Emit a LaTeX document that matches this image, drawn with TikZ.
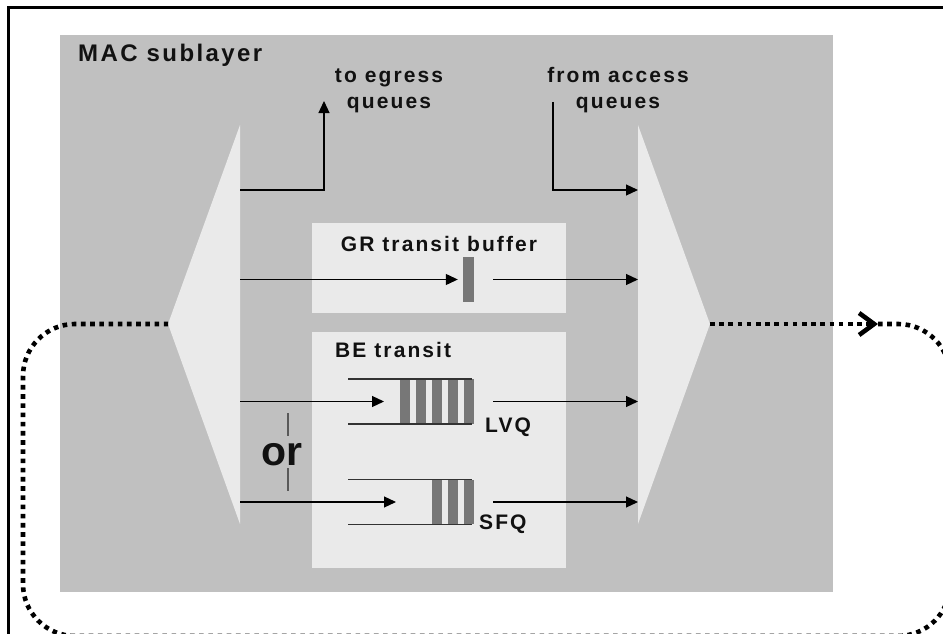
\documentclass[tikz,border=0pt]{standalone}
\usepackage{fontspec}
\setmainfont{Liberation Sans}
\newfontfamily\diafont{Liberation Sans}[LetterSpace=10]
\usetikzlibrary{positioning,arrows.meta,calc}
\definecolor{colormac}  {RGB}{192,192,192}
\definecolor{colorlight}{RGB}{234,234,234}
\definecolor{colorbar}  {RGB}{119,119,119}
\definecolor{colortext} {RGB}{ 17, 17, 17}

\begin{document}
\begin{tikzpicture}[
    x=1pt, y=-1pt,
    txt/.style={text=colortext,font={\diafont\bfseries\fontsize{21}{26}\selectfont},inner sep=0pt,align=center},
    area/.style={anchor=north west,inner sep=0pt,outer sep=0pt},
    queue/.style={inner sep=0pt,outer sep=0pt,minimum width=124pt,minimum height=45pt},
    flow/.style={-{Triangle[length=12pt,width=11pt]},line width=1.2pt},
    rail/.style={line width=1.3pt,color=black!80},
    ring/.style={line width=4.6pt,dash pattern=on 4.6pt off 4.6pt},
]
    \useasboundingbox (0,0) rectangle (943,634);

    % frame
    \draw[line width=2.8pt] (8.3,660) |- (970,7.2);

    % sublayer and buffers
    \node[area,fill=colormac,minimum width=773pt,minimum height=557pt]   (mac)   at (60,35)   {};
    \node[area,fill=colorlight,minimum width=254pt,minimum height=90pt]  (grbox) at (312,223) {};
    \node[area,fill=colorlight,minimum width=254pt,minimum height=236pt] (bebox) at (312,332) {};

    % drop and add
    \fill[colorlight] (240,125) coordinate (droptop) -- (240,524) -- (168,324) coordinate (dropapex) -- cycle;
    \fill[colorlight] (638,125) coordinate (addtop)  -- (638,524) -- (710,324) coordinate (addapex)  -- cycle;

    % labels
    \node[txt,font={\diafont\bfseries\fontsize{24}{26}\selectfont},anchor=base west] (maclabel) at (78,62) {MAC sublayer};
    \node[txt,anchor=base] (egresslabel) at (389,109) {to egress\\queues};
    \node[txt,anchor=base] (accesslabel) at (618,109) {from access\\queues};
    \node[txt,anchor=base] (grlabel)     at (439,251) {GR transit buffer};
    \node[txt,anchor=base west] (belabel) at (335,357) {BE transit};

    % GR transit buffer
    \node[fill=colorbar,inner sep=0pt,minimum width=11pt,minimum height=45pt] (grbar) at (468.5,279.5) {};

    % BE queues
    \node[queue] (lvq) at (410,401.5) {};
    \node[queue] (sfq) at (410,502)   {};
    \foreach \x in {400,416,...,464} \fill[colorbar] (\x,379) rectangle ++(10,45);
    \foreach \x in {432,448,464}     \fill[colorbar] (\x,480) rectangle ++(10,44);
    \draw[rail] (lvq.north west) -- (lvq.north east);
    \draw[rail] (lvq.south west) -- (lvq.south east);
    \draw[rail] (sfq.north west) -- (sfq.north east);
    \draw[rail] (sfq.south west) -- (sfq.south east);
    \node[txt,anchor=base west] (lvqlabel) at (485,432) {LVQ};
    \node[txt,anchor=base west] (sfqlabel) at (479,529) {SFQ};

    % or
    \node[text=colortext,font={\bfseries\fontsize{41}{41}\selectfont},inner sep=0pt,anchor=base] (orword) at (282,465) {or};
    \draw[line width=1.5pt,color=black!65] (288,413) -- (288,436) (288,468) -- (288,491);

    % flows
    \coordinate (egress) at (324,101);
    \coordinate (access) at (553,102);
    \draw[flow] ([yshift=-65pt]droptop) -| (egress);
    \draw[flow] (access) |- ([yshift=-65pt]addtop);
    \draw[flow] (droptop |- grbar) -- ([xshift=-5pt]grbar.west);
    \draw[flow] ([xshift=19pt]grbar.east) -- (addtop |- grbar);
    \draw[flow] (droptop |- lvq) -- ([xshift=36pt]lvq.west);
    \draw[flow] ([xshift=21pt]lvq.east) -- (addtop |- lvq);
    \draw[flow] (droptop |- sfq) -- ([xshift=48pt]sfq.west);
    \draw[flow] ([xshift=21pt]sfq.east) -- (addtop |- sfq);

    % ringlet
    \coordinate (loopmark) at (878,324);
    \draw[ring,-{Straight Barb[length=15pt,width=22pt]}] (addapex) -- (loopmark);
    \draw[ring,rounded corners=52pt] (loopmark) -- (950,324) -- (950,636) -- (23,636) -- (23,324) -- (dropapex);

\end{tikzpicture}
\end{document}
